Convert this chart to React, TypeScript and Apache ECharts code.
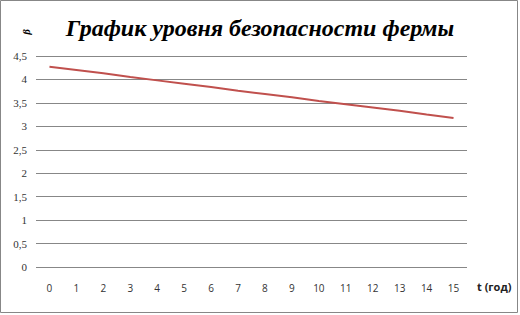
import React, { useEffect, useRef } from "react";
import * as echarts from "echarts";

const years = ["0", "1", "2", "3", "4", "5", "6", "7", "8", "9", "10", "11", "12", "13", "14", "15"];
const beta = [4.27, 4.2, 4.13, 4.05, 3.98, 3.91, 3.84, 3.76, 3.69, 3.62, 3.54, 3.47, 3.4, 3.33, 3.25, 3.18];
const titleText = "График уровня безопасности фермы";
const yName = "β";
const xName = "t (год)";

export default function App() {
  const ref = useRef<HTMLDivElement>(null);
  useEffect(() => {
    document.body.style.margin = "0";
    const chart = echarts.init(ref.current!, null, { renderer: "svg" });
    chart.setOption({
      animation: false,
      backgroundColor: "#ffffff",
      title: {
        text: titleText,
        left: "center",
        top: 11,
        textStyle: {
          fontFamily: "Liberation Serif",
          fontStyle: "italic",
          fontWeight: "bold",
          fontSize: 24,
          color: "#000",
        },
      },
      graphic: [
        {
          type: "rect",
          shape: { x: 0.5, y: 0.5, width: 517, height: 312 },
          style: { fill: "none", stroke: "#878787", lineWidth: 1 },
          silent: true,
        },
        {
          type: "text",
          x: 26,
          y: 32,
          rotation: Math.PI / 2,
          style: {
            text: yName,
            fontFamily: "Liberation Serif",
            fontStyle: "italic",
            fontWeight: "bold",
            fontSize: 11,
            fill: "#000",
            textAlign: "center",
            textVerticalAlign: "middle",
          },
        },
      ],
      grid: { left: 36, right: 53, top: 56, bottom: 48 },
      xAxis: {
        type: "category",
        data: years,
        boundaryGap: true,
        name: xName,
        nameLocation: "end",
        nameGap: 10,
        nameTextStyle: {
          fontFamily: "Open Sans",
          fontWeight: "bold",
          fontSize: 11,
          color: "#222",
          verticalAlign: "top",
          padding: [14, 0, 0, 0],
        },
        axisLine: { show: false },
        axisTick: { show: false },
        axisLabel: {
          margin: 16,
          fontFamily: "Open Sans",
          fontSize: 10,
          color: "#333",
          interval: 0,
        },
      },
      yAxis: {
        type: "value",
        min: 0,
        max: 4.5,
        interval: 0.5,
        axisLine: { show: false },
        axisTick: { show: false },
        splitLine: { lineStyle: { color: "#878787", width: 1 } },
        axisLabel: {
          margin: 9,
          fontFamily: "Liberation Serif",
          fontSize: 11,
          color: "#333",
          formatter: (v: number) => String(v).replace(".", ","),
        },
      },
      series: [
        {
          type: "line",
          data: beta,
          symbol: "none",
          lineStyle: { color: "#c0504d", width: 2 },
        },
      ],
    });
    return () => chart.dispose();
  }, []);
  return (
    <div
      ref={ref}
      style={{ position: "absolute", left: 0, top: 0, width: 520, height: 315 }}
    />
  );
}
